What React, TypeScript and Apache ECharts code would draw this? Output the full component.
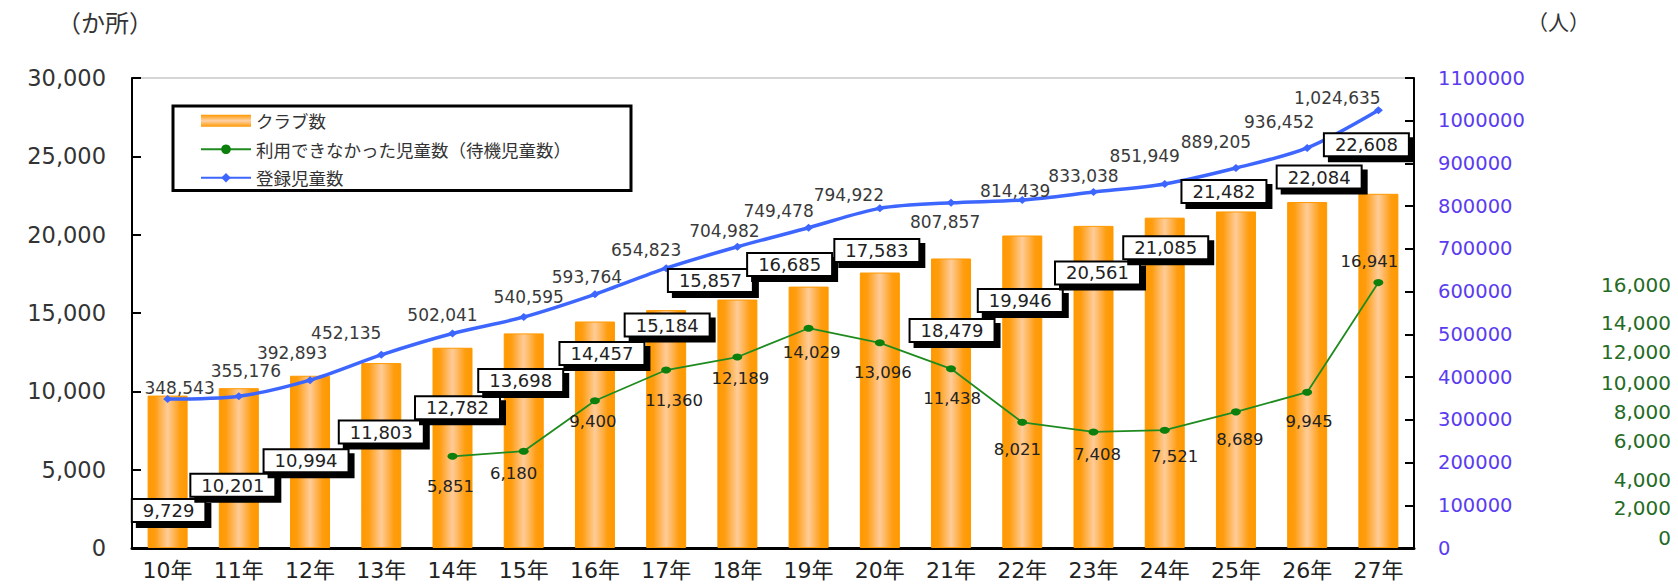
import { useEffect, useRef } from 'react';
import * as echarts from 'echarts';

// ---- data ----
const years = ['10年', '11年', '12年', '13年', '14年', '15年', '16年', '17年', '18年', '19年', '20年', '21年', '22年', '23年', '24年', '25年', '26年', '27年'];
const clubCounts = [9729, 10201, 10994, 11803, 12782, 13698, 14457, 15184, 15857, 16685, 17583, 18479, 19946, 20561, 21085, 21482, 22084, 22608];
const waitingChildren: (number | null)[] = [null, null, null, null, 5851, 6180, 9400, 11360, 12189, 14029, 13096, 11438, 8021, 7408, 7521, 8689, 9945, 16941];
const registeredChildren = [348543, 355176, 392893, 452135, 502041, 540595, 593764, 654823, 704982, 749478, 794922, 807857, 814439, 833038, 851949, 889205, 936452, 1024635];
const greenTickLabels = ['16,000', '14,000', '12,000', '10,000', '8,000', '6,000', '4,000', '2,000', '0'];

const seriesNames = ['クラブ数', '利用できなかった児童数（待機児童数）', '登録児童数'];

// ---- layout (label placement, not data) ----
const barLabelOffsets = [[1, 115], [-6, 97], [-4, 85], [0, 69], [5, 60], [-3, 47], [7, 32], [1, 15], [-27, -19], [-19, -22], [-3, -22], [1, 72], [-2, 65], [4, 47], [1, 30], [-12, -20], [12, -25], [-12, -49]];
const blueLabelOffsets = [[12, -11], [7, -25], [-18, -27], [-35, -22], [-10, -18], [5, -20], [-8, -17], [-20, -18], [-13, -16], [-30, -17], [-31, -13], [-6, 19], [-7, -9], [-10, -16], [-20, -28], [-20, -26], [-28, -26], [-41, -12]];
const greenLabelOffsets = [null, null, null, null, [-2, 30], [-10, 22], [-2, 21], [8, 30], [3, 21], [3, 24], [3, 30], [1, 30], [-5, 27], [4, 23], [10, 26], [4, 28], [2, 29], [-9, -21]];
const greenTickY = [285, 323, 352, 383, 412, 441, 480, 508, 538];

const fmt = (v: number) => v.toLocaleString('en-US');
const NUM_FONT = 'DejaVu Sans, Noto Sans CJK JP, sans-serif';
const JP_FONT = 'Noto Sans CJK JP, sans-serif';

export default function App() {
  const ref = useRef<HTMLDivElement>(null);
  useEffect(() => {
    if (!ref.current) return;
    const chart = echarts.init(ref.current, undefined, { renderer: 'svg' });

    const barGradient = new echarts.graphic.LinearGradient(0, 0, 1, 0, [
      { offset: 0, color: '#ff9900' },
      { offset: 0.18, color: '#ff9d10' },
      { offset: 0.5, color: '#ffcc99' },
      { offset: 0.82, color: '#ff9d10' },
      { offset: 1, color: '#ff9900' },
    ]);
    const legendBarGradient = new echarts.graphic.LinearGradient(0, 0, 0, 1, [
      { offset: 0, color: '#ff9900' },
      { offset: 0.5, color: '#ffd2a8' },
      { offset: 1, color: '#ff9900' },
    ]);

    const option: any = {
      animation: false,
      backgroundColor: '#ffffff',
      textStyle: { fontFamily: NUM_FONT },
      grid: {
        left: 132,
        right: 264,
        top: 78,
        bottom: 36,
        show: true,
        borderColor: '#c8c8c8',
        borderWidth: 1.5,
        containLabel: false,
      },
      legend: {
        left: 173,
        top: 106,
        orient: 'vertical',
        padding: [6, 60, 4, 27],
        borderColor: '#000',
        borderWidth: 3,
        itemGap: 11,
        itemWidth: 50,
        itemHeight: 12,
        selectedMode: false,
        textStyle: { fontFamily: JP_FONT, fontSize: 17.5, color: '#333' },
        data: [
          { name: seriesNames[0], icon: 'rect', itemStyle: { color: legendBarGradient, borderWidth: 0 } },
          { name: seriesNames[1] },
          { name: seriesNames[2] },
        ],
      },
      xAxis: {
        type: 'category',
        data: years,
        axisLine: { lineStyle: { color: '#000', width: 3 } },
        axisTick: { inside: true, length: 6, lineStyle: { color: '#000', width: 2 } },
        axisLabel: { interval: 0, fontSize: 22, color: '#222', margin: 11, fontFamily: NUM_FONT },
        splitLine: { show: false },
      },
      yAxis: [
        {
          type: 'value',
          min: 0,
          max: 30000,
          interval: 5000,
          axisLine: { show: true, lineStyle: { color: '#000', width: 2 } },
          axisTick: { show: true, inside: true, length: 9, lineStyle: { color: '#000', width: 2 } },
          axisLabel: { fontSize: 22.5, color: '#333', margin: 26, formatter: (v: number) => fmt(v) },
          splitLine: { show: false },
        },
        {
          type: 'value',
          position: 'right',
          min: 0,
          max: 1100000,
          interval: 100000,
          axisLine: { show: true, lineStyle: { color: '#000', width: 2 } },
          axisTick: { show: true, inside: true, length: 9, lineStyle: { color: '#000', width: 2 } },
          axisLabel: { fontSize: 19.5, color: '#5a3cf0', margin: 24, formatter: (v: number) => String(v) },
          splitLine: { show: false },
        },
      ],
      series: [
        {
          name: seriesNames[0],
          type: 'bar',
          data: clubCounts,
          barWidth: 40,
          barGap: '-100%',
          z: 2,
          silent: true,
          itemStyle: { color: barGradient, borderColor: '#ff9900', borderWidth: 1 },
        },
        {
          name: 'labels',
          type: 'bar',
          data: clubCounts.map((v, i) => ({ value: v, label: { offset: barLabelOffsets[i] } })),
          barWidth: 40,
          barGap: '-100%',
          z: 6,
          silent: true,
          itemStyle: { color: 'rgba(0,0,0,0)' },
          label: {
            show: true,
            position: 'top',
            distance: 0,
            align: 'center',
            verticalAlign: 'middle',
            formatter: (p: any) => fmt(p.value),
            fontFamily: NUM_FONT,
            fontSize: 18,
            lineHeight: 18,
            color: '#222',
            backgroundColor: '#ffffff',
            borderColor: '#000',
            borderWidth: 2,
            padding: [2, 10, 1, 10],
            shadowColor: '#000',
            shadowBlur: 0,
            shadowOffsetX: 5,
            shadowOffsetY: 5,
          },
        },
        {
          name: seriesNames[1],
          type: 'line',
          yAxisIndex: 0,
          z: 4,
          data: waitingChildren.map((v, i) => (v == null ? '-' : { value: v, label: { offset: greenLabelOffsets[i] } })),
          color: '#1a8a1a',
          lineStyle: { color: '#1f8b1f', width: 1.8 },
          symbol: 'circle',
          symbolSize: [10, 7],
          itemStyle: { color: '#0c7f0c' },
          label: {
            show: true,
            position: 'inside',
            align: 'center',
            verticalAlign: 'middle',
            formatter: (p: any) => fmt(p.value),
            fontFamily: NUM_FONT,
            fontSize: 16.5,
            color: '#222',
          },
        },
        {
          name: seriesNames[2],
          type: 'line',
          yAxisIndex: 1,
          z: 5,
          smooth: 0.3,
          data: registeredChildren.map((v, i) => ({ value: v, label: { offset: blueLabelOffsets[i] } })),
          color: '#3d66ff',
          lineStyle: { color: '#3d66ff', width: 3.5 },
          symbol: 'diamond',
          symbolSize: [9, 8],
          itemStyle: { color: '#3d66ff' },
          label: {
            show: true,
            position: 'inside',
            align: 'center',
            verticalAlign: 'middle',
            formatter: (p: any) => fmt(p.value),
            fontFamily: NUM_FONT,
            fontSize: 17,
            color: '#3a3a3a',
          },
        },
      ],
      graphic: [
        {
          type: 'text',
          left: 57,
          top: 9,
          style: { text: '（か所）', fontFamily: JP_FONT, fontSize: 24, fill: '#333' },
        },
        {
          type: 'text',
          left: 1527,
          top: 10,
          style: { text: '（人）', fontFamily: JP_FONT, fontSize: 21, fill: '#333' },
        },
        ...greenTickLabels.map((t, i) => ({
          type: 'text',
          x: 1671,
          y: greenTickY[i],
          style: {
            text: t,
            fontFamily: NUM_FONT,
            fontSize: 20,
            fill: '#256b25',
            align: 'right',
            verticalAlign: 'middle',
          },
        })),
      ],
    };

    chart.setOption(option);
    return () => chart.dispose();
  }, []);

  return (
    <div
      ref={ref}
      style={{ position: 'fixed', left: 0, top: 0, width: 1678, height: 584, background: '#fff' }}
    />
  );
}
